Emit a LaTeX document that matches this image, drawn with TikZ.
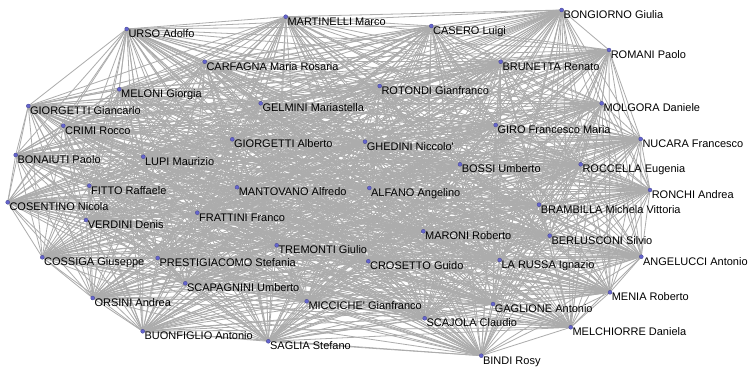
\documentclass[tikz,border=0pt]{standalone}
\usepackage{fontspec}
\setmainfont{Liberation Sans}
\definecolor{edgegray}{RGB}{172,172,172}
\definecolor{dotblue}{RGB}{100,100,205}
\begin{document}
\begin{tikzpicture}[x=1pt,y=-1pt,
  edge/.style={draw=edgegray, line width=0.8pt},
  dot/.style={circle, fill=dotblue, draw=dotblue!70!black, line width=0.3pt, inner sep=0pt, minimum size=4pt},
  lbl/.style={anchor=base west, inner sep=0pt, font=\fontsize{11}{13}\selectfont, text=black}]
\useasboundingbox (0,0) rectangle (748,367);
\fill[white] (0,0) rectangle (748,367);
\clip (0,0) rectangle (748,367);
\def\people{1/285.7/16.7/{MARTINELLI Marco},
2/126.7/29/{URSO Adolfo},
3/204.7/61.7/{CARFAGNA Maria Rosaria},
4/119.3/89.3/{MELONI Giorgia},
5/28.3/106/{GIORGETTI Giancarlo},
6/260.7/103.3/{GELMINI Mariastella},
7/63.3/125.7/{CRIMI Rocco},
8/232.3/139.3/{GIORGETTI Alberto},
9/365/141.7/{GHEDINI Niccolo\textquotesingle},
10/15.7/155/{BONAIUTI Paolo},
11/143.3/156.7/{LUPI Maurizio},
12/89.3/185.7/{FITTO Raffaele},
13/561.7/10/{BONGIORNO Giulia},
14/431.3/26/{CASERO Luigi},
15/609/50/{ROMANI Paolo},
16/500.7/61.7/{BRUNETTA Renato},
17/379.7/86/{ROTONDI Gianfranco},
18/601.7/103.3/{MOLGORA Daniele},
19/495.7/125/{GIRO Francesco Maria},
20/640.7/139/{NUCARA Francesco},
21/460/164.3/{BOSSI Umberto},
22/580.7/164.3/{ROCCELLA Eugenia},
23/7.7/202.3/{COSENTINO Nicola},
24/237/187.3/{MANTOVANO Alfredo},
25/369.3/188/{ALFANO Angelino},
26/197.3/212.7/{FRATTINI Franco},
27/86/220/{VERDINI Denis},
28/276.7/245.3/{TREMONTI Giulio},
29/42.3/257.3/{COSSIGA Giuseppe},
30/157.7/258/{PRESTIGIACOMO Stefania},
31/368.3/261.3/{CROSETTO Guido},
32/185.3/283.3/{SCAPAGNINI Umberto},
33/92.7/298/{ORSINI Andrea},
34/306.7/301.3/{MICCICHE\textquotesingle{} Gianfranco},
35/142.7/331.3/{BUONFIGLIO Antonio},
36/268.3/341.3/{SAGLIA Stefano},
37/650/190/{RONCHI Andrea},
38/539/204.7/{BRAMBILLA Michela Vittoria},
39/423.3/231.3/{MARONI Roberto},
40/549.7/235.7/{BERLUSCONI Silvio},
41/641.3/256.7/{ANGELUCCI Antonio},
42/499.7/260/{LA RUSSA Ignazio},
43/610/292.3/{MENIA Roberto},
44/493/304/{GAGLIONE Antonio},
45/424.7/318.3/{SCAJOLA Claudio},
46/570.7/327.3/{MELCHIORRE Daniela},
47/481.3/355.7/{BINDI Rosy}}
\foreach \i/\x/\y/\t in \people { \coordinate (c\i) at (\x,\y); }
\foreach \i in {1,...,46} {
  \pgfmathtruncatemacro{\k}{\i+1}
  \foreach \j in {\k,...,47} { \draw[edge] (c\i) -- (c\j); }
}
\foreach \i/\x/\y/\t in \people {
  \node[dot] (n\i) at (c\i) {};
  \node[lbl, xshift=1.6pt, yshift=-8.3pt] (t\i) at (c\i) {\t};
}
\end{tikzpicture}
\end{document}
